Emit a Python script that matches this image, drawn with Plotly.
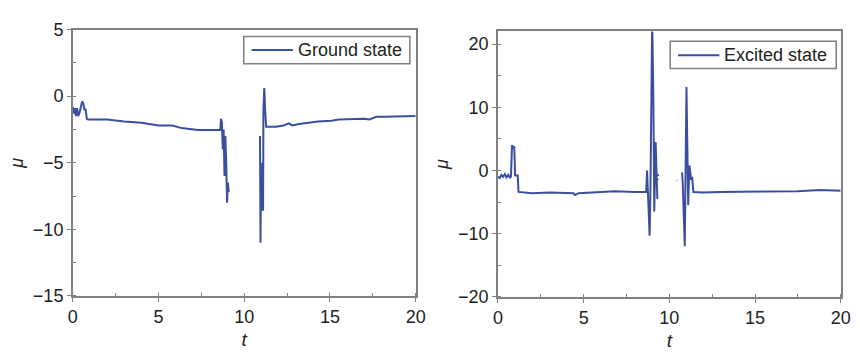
import plotly.graph_objects as go

# Ground state (left panel)
t_ground = [0.0, 0.08, 0.12, 0.18, 0.25, 0.32, 0.4, 0.48, 0.55, 0.62, 0.68, 0.75, 0.82, 0.9, 1.0,
            2.0, 3.0, 4.0, 5.0, 5.8, 6.35, 7.3, 8.0, 8.6, 8.65, 8.7, 8.75, 8.8, 8.85, 8.9, 8.95, 9.0, 9.05, 9.1,
            None,
            10.92, 10.95, 10.98, 11.02, 11.05, 11.1, 11.12, 11.17, 11.22, 11.28,
            11.85, 12.3, 12.6, 12.8, 13.2, 13.7, 14.3, 15.1, 15.5, 16.5, 17.0, 17.3, 17.7, 18.2, 18.9, 19.5, 20.0]
mu_ground = [-0.8, -1.3, -0.9, -1.5, -0.9, -1.5, -1.2, -0.8, -0.4, -0.6, -1.0, -1.0, -1.7, -1.75, -1.75,
             -1.75, -1.9, -2.0, -2.2, -2.2, -2.4, -2.55, -2.55, -2.55, -1.7, -2.0, -4.0, -2.5, -6.0, -3.0, -5.0, -8.0, -6.5, -7.2,
             None,
             -3.0, -11.0, -6.0, -8.6, -5.0, -8.6, -1.0, 0.6, -1.0, -2.3,
             -2.3, -2.2, -2.05, -2.2, -2.1, -2.0, -1.9, -1.85, -1.75, -1.72, -1.7, -1.75, -1.55, -1.55, -1.55, -1.5, -1.5]

# Excited state (right panel)
t_excited = [0.0, 0.1, 0.2, 0.3, 0.4, 0.5, 0.6, 0.7, 0.76, 0.82, 0.88, 0.95, 1.0, 1.15, 1.2,
             2.0, 3.0, 4.4, 4.5, 4.7, 5.5, 6.8, 8.0, 8.65, 8.7, 8.75, 8.85, 8.9, 9.0, 9.07, 9.12, 9.2, 9.27, 9.3,
             None, 9.33, 9.35, None, 9.33, 9.35, None, 10.43, 10.46, None,
             10.74, 10.78, 10.9, 11.0, 11.1, 11.17, 11.27, 11.33, 11.4,
             12.0, 13.0, 15.0, 16.0, 17.5, 18.8, 19.5, 20.0]
mu_excited = [-1.0, -1.2, -0.7, -1.0, -0.6, -1.1, -0.7, -1.2, -0.9, 4.0, 3.6, 3.8, -0.8, -0.8, -3.4,
              -3.6, -3.5, -3.6, -3.9, -3.6, -3.5, -3.3, -3.4, -3.4, 0.0, -4.5, -10.3, -2.5, 24.0, 10.4, -6.5, 4.5, -2.5, -4.5,
              None, -0.6, -0.9, None, -1.4, -1.5, None, -1.6, -1.6, None,
              -0.3, -1.9, -12.0, 13.2, -5.5, 0.8, -1.5, -1.0, -3.4,
              -3.5, -3.4, -3.4, -3.3, -3.3, -3.1, -3.2, -3.2]

x_ticks = [0, 5, 10, 15, 20]
y_ticks_ground = [5, 0, -5, -10, -15]
y_ticks_excited = [20, 10, 0, -10, -20]

line_color = "#3b4fa0"
axis_color = "#808080"
text_color = "#222222"
font_family = "Liberation Sans, Arial, sans-serif"

fig = go.Figure()
fig.add_trace(go.Scatter(x=t_ground, y=mu_ground, mode="lines", name="Ground state",
                         line=dict(color=line_color, width=2), xaxis="x", yaxis="y",
                         connectgaps=False))
fig.add_trace(go.Scatter(x=t_excited, y=mu_excited, mode="lines", name="Excited state",
                         line=dict(color=line_color, width=2), xaxis="x2", yaxis="y2",
                         connectgaps=False))

def xax(domain, anchor):
    return dict(domain=domain, anchor=anchor, range=[0, 20], tickvals=x_ticks,
                ticktext=[str(v) for v in x_ticks],
                showline=True, linecolor=axis_color, linewidth=1.5, mirror=True,
                ticks="outside", ticklen=4, tickcolor=axis_color, showgrid=False, zeroline=False,
                minor=dict(ticks="inside", ticklen=3, tickcolor=axis_color, dtick=2.5, showgrid=False),
                tickfont=dict(size=18, color=text_color, family=font_family),
                title=dict(text="<i>t</i>", font=dict(size=19, color=text_color, family=font_family), standoff=6))

def yax(domain, anchor, rng, ticks):
    step = 2.5 if rng[1] - rng[0] < 30 else 5
    return dict(domain=domain, anchor=anchor, range=rng, tickvals=ticks,
                ticktext=[("\u2212" + str(-v)) if v < 0 else str(v) for v in ticks],
                showline=True, linecolor=axis_color, linewidth=1.5, mirror=True,
                ticks="outside", ticklen=4, tickcolor=axis_color, showgrid=False, zeroline=False,
                minor=dict(ticks="inside", ticklen=3, tickcolor=axis_color, dtick=step, showgrid=False),
                tickfont=dict(size=18, color=text_color, family=font_family),
                title=dict(text="<i>μ</i>", font=dict(size=18, color=text_color, family=font_family), standoff=5))

fig.update_layout(
    width=860, height=354,
    margin=dict(l=0, r=0, t=0, b=0),
    paper_bgcolor="white", plot_bgcolor="white",
    showlegend=False,
    xaxis=xax([0.0802, 0.486], "y"),
    yaxis=yax([0.144, 0.9415], "x", [-15, 5], y_ticks_ground),
    xaxis2=xax([0.5834, 0.989], "y2"),
    yaxis2=yax([0.141, 0.936], "x2", [-20, 22], y_ticks_excited),
)

# Legend boxes (one per panel)
fig.add_shape(type="rect", xref="paper", yref="paper",
              x0=243/860, x1=412/860, y0=1-57/354, y1=1-28/354,
              line=dict(color=axis_color, width=1.5), fillcolor="white")
fig.add_shape(type="line", xref="paper", yref="paper",
              x0=251/860, x1=293/860, y0=1-42.5/354, y1=1-42.5/354,
              line=dict(color=line_color, width=2))
fig.add_annotation(xref="paper", yref="paper", x=296/860, y=1-42.5/354, xanchor="left", yanchor="middle",
                   text="Ground state", showarrow=False,
                   font=dict(size=18, color=text_color, family=font_family))

fig.add_shape(type="rect", xref="paper", yref="paper",
              x0=677/860, x1=846/860, y0=1-62/354, y1=1-33/354,
              line=dict(color=axis_color, width=1.5), fillcolor="white")
fig.add_shape(type="line", xref="paper", yref="paper",
              x0=685/860, x1=727/860, y0=1-48/354, y1=1-48/354,
              line=dict(color=line_color, width=2))
fig.add_annotation(xref="paper", yref="paper", x=730/860, y=1-48/354, xanchor="left", yanchor="middle",
                   text="Excited state", showarrow=False,
                   font=dict(size=18, color=text_color, family=font_family))

fig.write_html("out.html")
